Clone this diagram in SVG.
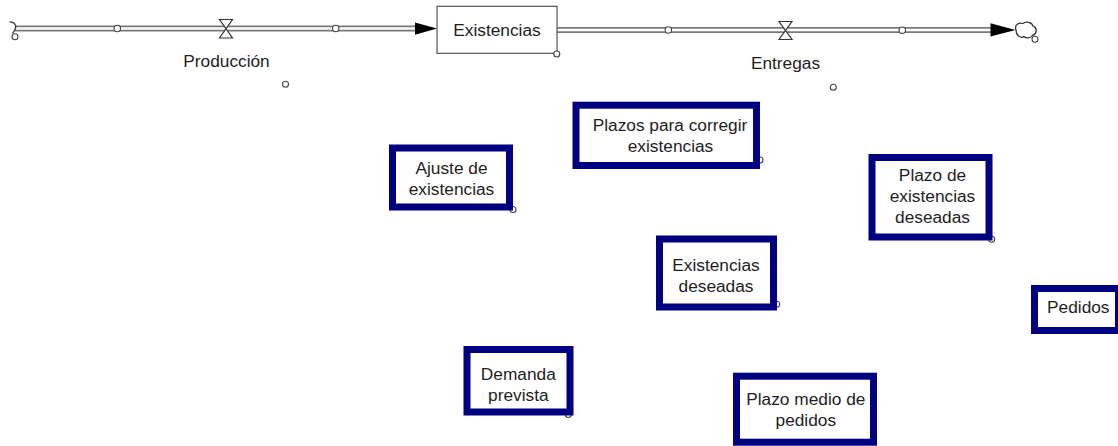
<svg xmlns="http://www.w3.org/2000/svg" width="1118" height="446" viewBox="0 0 1118 446">
<style>
.pipeo{stroke:#7a7a7a;stroke-width:6;fill:none}
.pipei{stroke:#ffffff;stroke-width:2.4;fill:none}
.dot{fill:#fff;stroke:#444;stroke-width:1.1}
.aux{fill:#fff;stroke:#000080;stroke-width:7}
.t{font-family:"Liberation Sans",Arial,sans-serif;font-size:17.3px;fill:#1e1e1e;text-anchor:middle}
.valve{fill:#fff;stroke:#333;stroke-width:1.2;stroke-linejoin:miter}
.cloud{fill:#fff;stroke:#333;stroke-width:1.3}
</style>
<rect width="1118" height="446" fill="#fff"/>
<g id="connectors">
  <line class="pipeo" x1="15" y1="28.5" x2="418" y2="28.5"/>
  <line class="pipei" x1="15" y1="28.5" x2="418" y2="28.5"/>
  <polygon points="415,22.5 437,28.5 415,34.7" fill="#000"/>
  <line class="pipeo" x1="557" y1="30" x2="993" y2="30"/>
  <line class="pipei" x1="557" y1="30" x2="993" y2="30"/>
  <polygon points="990.5,23.3 1015.5,30 990.5,36.5" fill="#000"/>
  <circle class="dot" cx="117.3" cy="28.5" r="3.2"/>
  <circle class="dot" cx="335.7" cy="28.5" r="3.2"/>
  <circle class="dot" cx="668.3" cy="30" r="3.2"/>
  <circle class="dot" cx="902.3" cy="30.2" r="3.2"/>
</g>
<g id="source">
  <path class="cloud" d="M9.5,21.8 C14,21.5 16.5,25 15.5,28.3 C15,31 13,32 12.5,33.5" style="fill:none"/>
  <circle class="dot" cx="15" cy="36.7" r="3"/>
</g>
<g id="sink">
  <path class="cloud" d="M1016,30 C1014,25 1019,22 1023,23.5 C1026,21 1032,22 1033,26 C1037.5,27.5 1037,34 1033,35 C1031,38.5 1026,38.5 1024,36.5 C1021,38.5 1016,36 1016,30 Z"/>
  <circle class="dot" cx="1035" cy="39.3" r="3"/>
</g>
<g id="Produccion">
  <path class="valve" d="M219.5,19.5 L232.5,19.5 L219.5,38 L232.5,38 Z"/>
  <text class="t" x="226.5" y="66.7">Producción</text>
  <circle class="dot" cx="285.5" cy="84.3" r="3"/>
</g>
<g id="Existencias">
  <rect x="437" y="6.3" width="120" height="47" fill="#fff" stroke="#555" stroke-width="1.2"/>
  <text class="t" x="497" y="36.3">Existencias</text>
  <circle class="dot" cx="556.8" cy="54" r="3"/>
</g>
<g id="Entregas">
  <path class="valve" d="M779,21.5 L792,21.5 L779,39.5 L792,39.5 Z"/>
  <text class="t" x="785.5" y="68.5">Entregas</text>
  <circle class="dot" cx="833.3" cy="87.3" r="3"/>
</g>
<g id="Ajuste">
  <circle class="dot" cx="513" cy="209.5" r="3"/>
  <rect class="aux" x="392.5" y="148" width="117" height="59"/>
  <text class="t" x="451.5" y="174.3">Ajuste de</text>
  <text class="t" x="451.5" y="195">existencias</text>
</g>
<g id="Plazos">
  <circle class="dot" cx="760" cy="160" r="3"/>
  <rect class="aux" x="576" y="105.2" width="180.5" height="60.3"/>
  <text class="t" x="670" y="131">Plazos para corregir</text>
  <text class="t" x="670.5" y="151.7">existencias</text>
</g>
<g id="PlazoExistencias">
  <circle class="dot" cx="991.7" cy="239.3" r="3"/>
  <rect class="aux" x="872" y="157.5" width="117" height="79.5"/>
  <text class="t" x="932.5" y="181">Plazo de</text>
  <text class="t" x="932.5" y="202.3">existencias</text>
  <text class="t" x="932.5" y="223.3">deseadas</text>
</g>
<g id="ExistenciasDeseadas">
  <circle class="dot" cx="776.7" cy="304.3" r="3"/>
  <rect class="aux" x="659.5" y="239" width="114" height="68"/>
  <text class="t" x="716" y="270.7">Existencias</text>
  <text class="t" x="716" y="291.7">deseadas</text>
</g>
<g id="Pedidos">
  <rect class="aux" x="1034.5" y="288.5" width="84" height="42"/>
  <text class="t" x="1078.3" y="312.7">Pedidos</text>
</g>
<g id="Demanda">
  <circle class="dot" cx="568.3" cy="414.5" r="3"/>
  <rect class="aux" x="467" y="349.5" width="103" height="62.5"/>
  <text class="t" x="518.3" y="380">Demanda</text>
  <text class="t" x="518.3" y="400.7">prevista</text>
</g>
<g id="PlazoMedio">
  <rect class="aux" x="736.5" y="376.2" width="137" height="66"/>
  <text class="t" x="805.8" y="405">Plazo medio de</text>
  <text class="t" x="805.8" y="425.7">pedidos</text>
</g>
</svg>
